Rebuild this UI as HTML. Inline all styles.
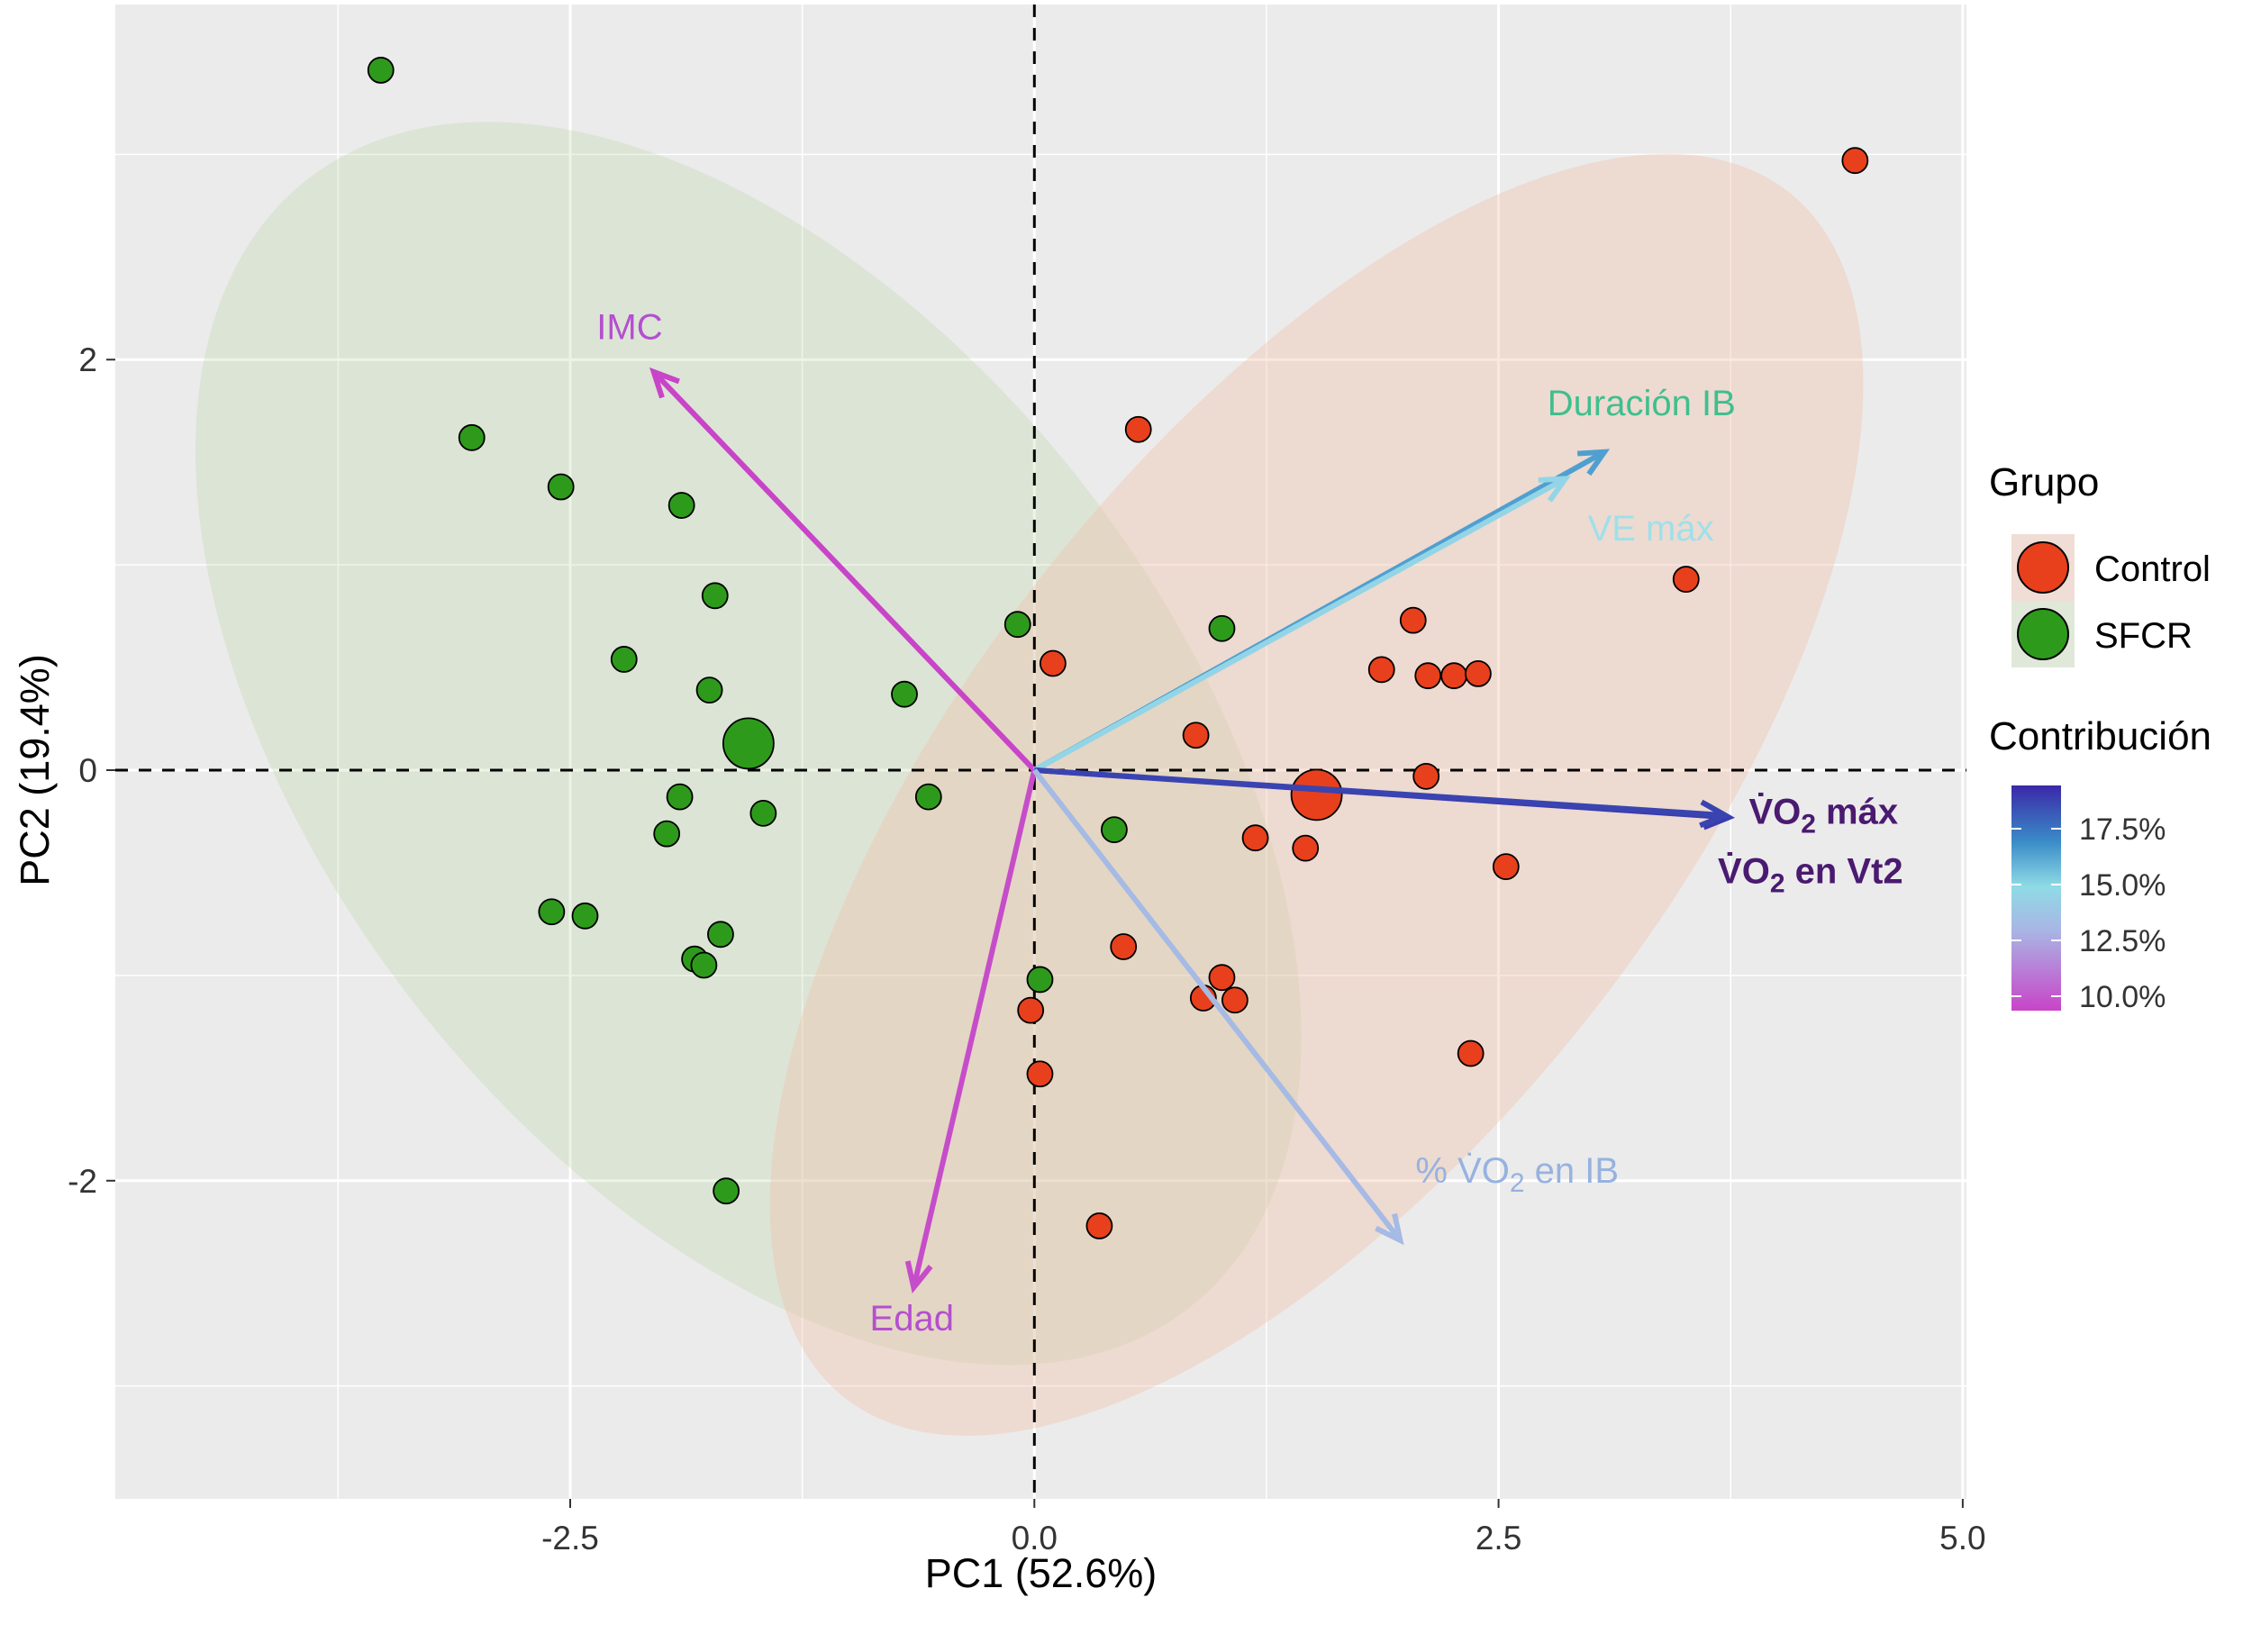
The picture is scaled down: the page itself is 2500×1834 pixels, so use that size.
<!DOCTYPE html>
<html><head><meta charset="utf-8"><style>
html,body{margin:0;padding:0;background:#fff;}
svg{display:block;font-family:"Liberation Sans",sans-serif;}
</style></head><body>
<svg id="chart" width="2500" height="1834" viewBox="0 0 2500 1834" xmlns="http://www.w3.org/2000/svg">
<defs>
<linearGradient id="cbar" x1="0" y1="1" x2="0" y2="0">
<stop offset="0" stop-color="#c844c8"/><stop offset="0.35" stop-color="#a9b4e4"/><stop offset="0.55" stop-color="#8fdbe6"/><stop offset="0.75" stop-color="#3a8cc8"/><stop offset="1" stop-color="#3a28a8"/>
</linearGradient>
</defs>
<g id="plot"></g>
</svg>
<script>
const xTicks=[-2.5,0,2.5,5];
const xTickLabels=["-2.5","0.0","2.5","5.0"];
const yTicks=[-2,0,2];
const yTickLabels=["-2","0","2"];
const sfcrX=[-3.52,-3.03,-2.55,-1.90,-1.72,-2.21,-1.75,-0.70,-0.09,1.01,-1.91,-1.46,-1.98,-0.57,0.43,-2.60,-2.42,-1.69,-1.83,-1.78,0.03,-1.66];
const sfcrY=[3.41,1.62,1.38,1.29,0.85,0.54,0.39,0.37,0.71,0.69,-0.13,-0.21,-0.31,-0.13,-0.29,-0.69,-0.71,-0.80,-0.92,-0.95,-1.02,-2.05];
const ctrlX=[4.42,0.56,3.51,2.04,0.10,1.87,2.12,2.26,2.39,0.87,2.11,1.19,1.46,2.54,0.48,1.01,0.91,1.08,-0.02,0.03,2.35,0.35];
const ctrlY=[2.97,1.66,0.93,0.73,0.52,0.49,0.46,0.46,0.47,0.17,-0.03,-0.33,-0.38,-0.47,-0.86,-1.01,-1.11,-1.12,-1.17,-1.48,-1.38,-2.22];
const centroidX=[-1.54,1.52];
const centroidY=[0.13,-0.12];
const varNames=["IMC","Edad","Duración IB","VE máx","VO2 máx","VO2 en Vt2","% VO2 en IB"];
const varX=[-2.05,-0.65,3.07,2.86,3.74,3.72,1.97];
const varY=[1.94,-2.52,1.55,1.42,-0.23,-0.22,-2.29];
const varContrib=[10.0,10.2,16.0,14.2,18.5,18.3,12.8];

const L=128,R=2183,T=5,B=1664, xmin=-4.95,xmax=5.02,ymin=-3.55,ymax=3.73;
const sx=v=>L+(v-xmin)/(xmax-xmin)*(R-L);
const sy=v=>B-(v-ymin)/(ymax-ymin)*(B-T);
const NS="http://www.w3.org/2000/svg";
const g=document.getElementById('plot');
function mk(tag,attrs,parent){const e=document.createElementNS(NS,tag);for(const k in attrs)e.setAttribute(k,attrs[k]);(parent||g).appendChild(e);return e;}
function colorFor(c){const stops=[[10,[200,68,200]],[12.5,[169,180,228]],[14.5,[143,219,230]],[16.5,[58,140,200]],[19,[58,40,168]]];
 for(let i=0;i<stops.length-1;i++){if(c<=stops[i+1][0]){const t=Math.max(0,(c-stops[i][0])/(stops[i+1][0]-stops[i][0]));const a=stops[i][1],b=stops[i+1][1];return `rgb(${a.map((v,j)=>Math.round(v+(b[j]-v)*t)).join(',')})`;}}return 'rgb(58,40,168)';}

const bg=mk('rect',{x:L,y:T,width:R-L,height:B-T,fill:'#ebebeb'});


[-3.75,-1.25,1.25,3.75].forEach(v=>{const l=mk('line',{x1:sx(v),x2:sx(v),y1:T,y2:B,stroke:'#fff','stroke-width':1.5});});
[-3,-1,1,3].forEach(v=>{const l=mk('line',{x1:L,x2:R,y1:sy(v),y2:sy(v),stroke:'#fff','stroke-width':1.5});});
xTicks.forEach(v=>{const l=mk('line',{x1:sx(v),x2:sx(v),y1:T,y2:B,stroke:'#fff','stroke-width':3});});
yTicks.forEach(v=>{const l=mk('line',{x1:L,x2:R,y1:sy(v),y2:sy(v),stroke:'#fff','stroke-width':3});});

// ellipses
const eg=mk('ellipse',{cx:0,cy:0,rx:795,ry:470,fill:'#a8cc8c','fill-opacity':0.22,transform:`translate(${sx(centroidX[0])},${sy(centroidY[0])}) rotate(52)`});


const er=mk('ellipse',{cx:0,cy:0,rx:850,ry:390,fill:'#f3bfa8','fill-opacity':0.38,transform:`translate(${sx(centroidX[1])},${sy(centroidY[1])}) rotate(-52)`});



// reference lines
const hz=mk('line',{x1:L,x2:R,y1:sy(0),y2:sy(0),stroke:'#000','stroke-width':3,'stroke-dasharray':'14 12'});


const vt=mk('line',{x1:sx(0),x2:sx(0),y1:T,y2:B,stroke:'#000','stroke-width':3,'stroke-dasharray':'14 12'});



// points
function pt(x,y,fill,r,name){const c=mk('circle',{cx:sx(x),cy:sy(y),r:r,fill:fill,stroke:'#000','stroke-width':1.8});}
sfcrX.forEach((x,i)=>pt(x,sfcrY[i],'#2e9a1c',14,'sfcr-point'));
ctrlX.forEach((x,i)=>pt(x,ctrlY[i],'#e8401c',14,'control-point'));
pt(centroidX[0],centroidY[0],'#2e9a1c',28,'sfcr-centroid');
pt(centroidX[1],centroidY[1],'#e8401c',28,'control-centroid');

// arrows
const labelPos=[[-2.18,2.1,'#b44fcf'],[-0.66,-2.73,'#b44fcf'],[3.27,1.73,'#3fbf8e'],[3.32,1.12,'#9fe0ea'],[4.25,-0.26,'#4a1a70'],[4.18,-0.55,'#4a1a70'],[2.6,-2.01,'#96b2e0']];
varX.forEach((vx,i)=>{
 const col=colorFor(varContrib[i]);
 const x1=sx(0),y1=sy(0),x2=sx(vx),y2=sy(varY[i]);
 const a=Math.atan2(y2-y1,x2-x1);
 const ln=mk('line',{x1,y1,x2,y2,stroke:col,'stroke-width':6});
 
 
 const h=30,w=0.45;
 const hd=mk('polyline',{points:`${x2-h*Math.cos(a-w)},${y2-h*Math.sin(a-w)} ${x2},${y2} ${x2-h*Math.cos(a+w)},${y2-h*Math.sin(a+w)}`,fill:'none',stroke:col,'stroke-width':6});
 
 
 const lp=labelPos[i];
 const t=mk('text',{x:sx(lp[0]),y:sy(lp[1]),fill:lp[2],'font-size':40,'text-anchor':'middle','font-weight':(i==4||i==5)?'bold':'normal'});
 
 
 const nm=varNames[i];
 if(nm.includes('VO2')){const parts=nm.split('VO2');t.appendChild(document.createTextNode(parts[0]+'V\u0307O'));const s=mk('tspan',{dy:10,'font-size':30},t);s.textContent='2';const r=mk('tspan',{dy:-10},t);r.textContent=parts[1];}
 else t.textContent=nm;
});

// axes ticks & labels
xTicks.forEach((v,i)=>{mk('line',{x1:sx(v),x2:sx(v),y1:B,y2:B+10,stroke:'#333','stroke-width':2});
 const t=mk('text',{x:sx(v),y:B+56,'font-size':37,fill:'#333','text-anchor':'middle'});t.textContent=xTickLabels[i];
 });
yTicks.forEach((v,i)=>{mk('line',{x1:L-10,x2:L,y1:sy(v),y2:sy(v),stroke:'#333','stroke-width':2});
 const t=mk('text',{x:L-20,y:sy(v)+13,'font-size':37,fill:'#333','text-anchor':'end'});t.textContent=yTickLabels[i];
 });
const xt=mk('text',{x:(L+R)/2,y:1762,'font-size':45,'text-anchor':'middle',fill:'#000'});xt.textContent='PC1 (52.6%)';


const yt=mk('text',{x:0,y:0,'font-size':45,'text-anchor':'middle',fill:'#000',transform:`translate(54,${sy(0)}) rotate(-90)`});yt.textContent='PC2 (19.4%)';



// legend
const lg=mk('g',{});


const gt=mk('text',{x:2208,y:550,'font-size':44,fill:'#000'},lg);gt.textContent='Grupo';
const grpNames=['Control','SFCR'],grpCols=['#e8401c','#2e9a1c'],grpBg=['#f0ddd5','#e0e8da'];
grpNames.forEach((n,i)=>{const y=630+i*74;
 mk('rect',{x:2233,y:y-37,width:70,height:74,fill:grpBg[i]},lg);
 const c=mk('circle',{cx:2268,cy:y,r:28,fill:grpCols[i],stroke:'#000','stroke-width':2},lg);
 
 
 const t=mk('text',{x:2325,y:y+15,'font-size':40,fill:'#000'},lg);t.textContent=n;});
const ct=mk('text',{x:2208,y:832,'font-size':44,fill:'#000'},lg);ct.textContent='Contribución';
const cb=mk('rect',{x:2233,y:872,width:55,height:250,fill:'url(#cbar)'},lg);


const cbTicks=['17.5%','15.0%','12.5%','10.0%'];
cbTicks.forEach((s,i)=>{const y=920+i*62;
 mk('line',{x1:2233,x2:2244,y1:y,y2:y,stroke:'#fff','stroke-width':2},lg);mk('line',{x1:2277,x2:2288,y1:y,y2:y,stroke:'#fff','stroke-width':2},lg);
 const t=mk('text',{x:2308,y:y+12,'font-size':34,fill:'#333'},lg);t.textContent=s;});
</script>
</body></html>
